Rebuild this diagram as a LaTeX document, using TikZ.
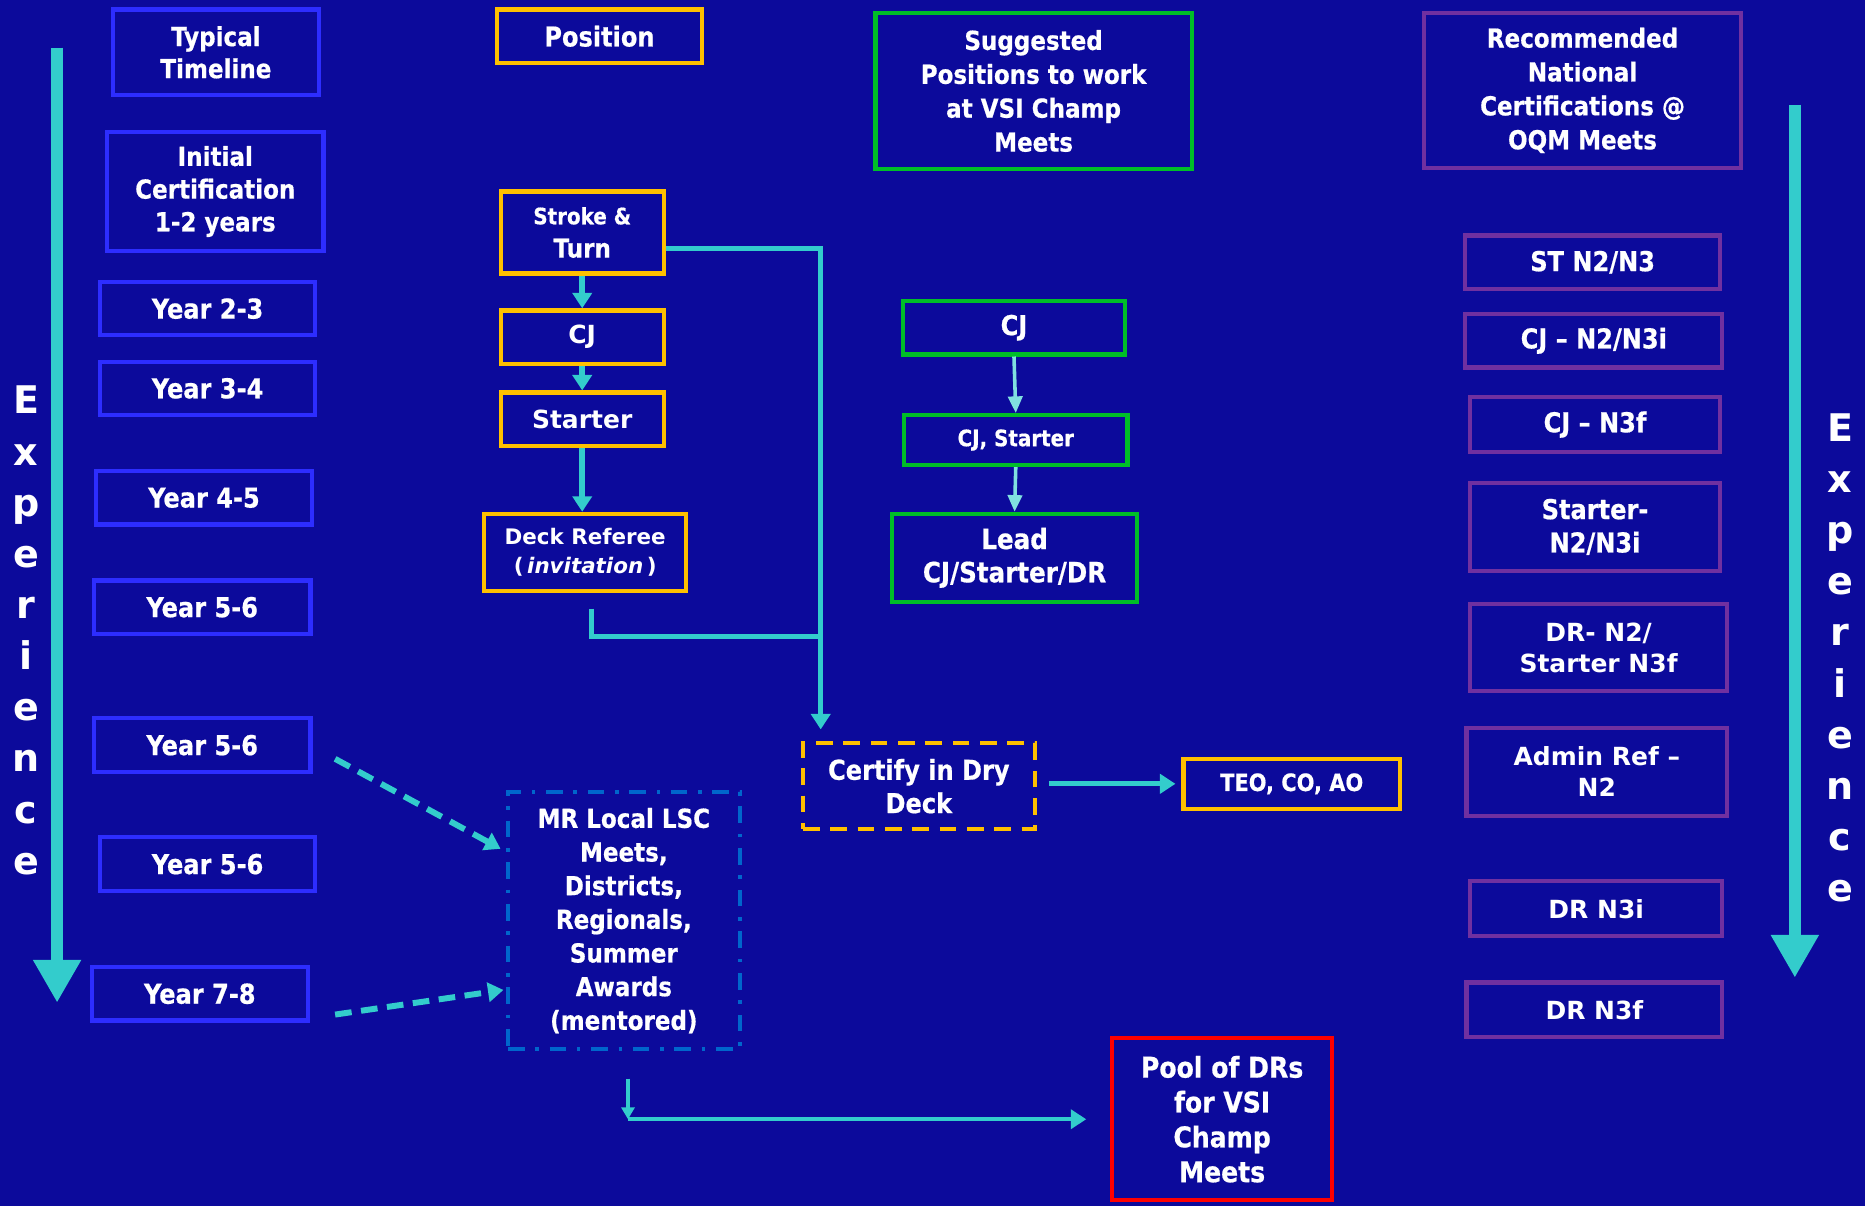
\documentclass[tikz,border=0pt]{standalone}
\usepackage{fontspec}
\setmainfont{DejaVu Sans}
\newfontfamily\tah{DejaVu Sans}[FakeStretch=0.88,FakeBold=0.6]
\usetikzlibrary{arrows.meta}
\definecolor{bgblue}{RGB}{12,10,155}
\definecolor{tealc}{RGB}{51,204,204}
\definecolor{ltteal}{RGB}{128,224,224}
\definecolor{boxblue}{RGB}{45,45,255}
\definecolor{orangec}{RGB}{255,192,0}
\definecolor{greenc}{RGB}{0,190,40}
\definecolor{purplec}{RGB}{112,48,160}
\definecolor{redc}{RGB}{255,0,0}
\definecolor{mrblue}{RGB}{0,102,204}
\begin{document}
\begin{tikzpicture}[x=1pt,y=-1pt,
  box/.style={draw, line width=3.5pt, text=white, align=center, inner sep=0pt,
    font=\tah\bfseries\fontsize{23}{28}\selectfont},
  bbox/.style={box, draw=boxblue},
  obox/.style={box, draw=orangec},
  gbox/.style={box, draw=greenc},
  pbox/.style={box, draw=purplec},
  rbox/.style={box, draw=redc},
  vfont/.style={font=\bfseries\fontsize{21}{26}\selectfont},
  conn/.style={draw=tealc, line width=5pt},
  tipa/.style={-{Triangle[width=16pt,length=13pt]}},
  bigarrow/.style={draw=tealc, line width=10pt, -{Triangle[width=38pt,length=36pt]}},
  expl/.style={text=white, font=\bfseries\fontsize{32}{32}\selectfont, anchor=base, inner sep=0pt},
  ltconn/.style={draw=ltteal, line width=3pt, -{Triangle[width=12pt,length=14pt]}}
]
\fill[bgblue] (0,0) rectangle (1568,1014);
\useasboundingbox (0,0) rectangle (1568,1014);

% left timeline column
\node[bbox, minimum width=173pt, minimum height=72pt, font=\tah\bfseries\fontsize{22}{27}\selectfont] (tt) at (181.5,44) {Typical\\Timeline};
\node[bbox, minimum width=182pt, minimum height=100pt, font=\tah\bfseries\fontsize{22}{27.5}\selectfont] (ic) at (181,161) {Initial\\Certification\\1-2 years};
\node[bbox, minimum width=181pt, minimum height=45pt] (y23) at (174.5,259.5) {Year 2-3};
\node[bbox, minimum width=181pt, minimum height=45pt] (y34) at (174.5,326.5) {Year 3-4};
\node[bbox, minimum width=181pt, minimum height=45pt] (y45) at (171.5,418.5) {Year 4-5};
\node[bbox, minimum width=182pt, minimum height=45pt] (y56a) at (170,510.5) {Year 5-6};
\node[bbox, minimum width=182pt, minimum height=45pt] (y56b) at (170,626.5) {Year 5-6};
\node[bbox, minimum width=181pt, minimum height=45pt] (y56c) at (174.5,726.5) {Year 5-6};
\node[bbox, minimum width=182pt, minimum height=45pt] (y78) at (168,835.5) {Year 7-8};

% position column
\node[obox, minimum width=172pt, minimum height=45pt] (pos) at (504,30.5) {Position};
\node[obox, minimum width=137pt, minimum height=69pt] (st) at (489.5,195.5)
  {{\bfseries\fontsize{19}{24}\selectfont Stroke \&}\\{\bfseries\fontsize{22}{26}\selectfont Turn}};
\node[obox, vfont, minimum width=137pt, minimum height=45pt] (cj) at (489.5,283.5) {CJ};
\node[obox, vfont, minimum width=137pt, minimum height=45pt] (sta) at (489.5,352.5) {Starter};
\node[obox, minimum width=170pt, minimum height=65pt, font=\bfseries\fontsize{18}{24}\selectfont] (dr) at (492,464.5) {Deck Referee\\(\,\textit{invitation}\,)};
\node[obox, dash pattern=on 14pt off 9pt, minimum width=195pt, minimum height=72pt] (cert) at (772.5,661) {Certify in Dry\\Deck};
\node[obox, minimum width=182pt, minimum height=42pt, font=\tah\bfseries\fontsize{20}{24}\selectfont] (teo) at (1086,659) {TEO, CO, AO};

% suggested column
\node[gbox, minimum width=266pt, minimum height=131pt, font=\tah\bfseries\fontsize{22}{28.5}\selectfont] (sug) at (869,76.5) {Suggested\\Positions to work\\at VSI Champ\\Meets};
\node[gbox, minimum width=187pt, minimum height=45pt] (gcj) at (852.5,275.5) {CJ};
\node[gbox, minimum width=188pt, minimum height=42pt, font=\tah\bfseries\fontsize{19}{24}\selectfont] (gcs) at (854,370) {CJ, Starter};
\node[gbox, minimum width=206pt, minimum height=74pt, font=\tah\bfseries\fontsize{23.5}{28}\selectfont] (lead) at (853,469) {Lead\\CJ/Starter/DR};

% national certifications column
\node[pbox, minimum width=267pt, minimum height=130pt, font=\tah\bfseries\fontsize{22}{28.5}\selectfont] (rec) at (1330.5,76) {Recommended\\National\\Certifications @\\OQM Meets};
\node[pbox, minimum width=214pt, minimum height=45pt] (p1) at (1339,220.5) {ST N2/N3};
\node[pbox, minimum width=216pt, minimum height=45pt] (p2) at (1340,286.5) {CJ – N2/N3i};
\node[pbox, minimum width=210pt, minimum height=46pt] (p3) at (1341,357) {CJ – N3f};
\node[pbox, minimum width=210pt, minimum height=74pt, font=\tah\bfseries\fontsize{23}{28}\selectfont] (p4) at (1341,443) {Starter-\\N2/N3i};
\node[pbox, vfont, minimum width=216pt, minimum height=73pt] (p5) at (1344,544.5) {DR- N2/\\Starter N3f};
\node[pbox, vfont, minimum width=219pt, minimum height=74pt] (p6) at (1342.5,649) {Admin Ref –\\N2};
\node[pbox, vfont, minimum width=212pt, minimum height=46pt] (p7) at (1342,764) {DR N3i};
\node[pbox, vfont, minimum width=215pt, minimum height=46pt] (p8) at (1340.5,849) {DR N3f};

% mentoring and pool
\node[box, draw=mrblue, dash pattern=on 14pt off 9pt on 3pt off 9pt, minimum width=195pt, minimum height=216pt, font=\tah\bfseries\fontsize{22}{28.3}\selectfont] (mr) at (524.5,774) {MR Local LSC\\Meets,\\Districts,\\Regionals,\\Summer\\Awards\\(mentored)};
\node[rbox, minimum width=185pt, minimum height=136pt, font=\tah\bfseries\fontsize{24}{29.3}\selectfont] (pool) at (1027.5,941) {Pool of DRs\\for VSI\\Champ\\Meets};

% experience arrows
\coordinate (la1) at (48,40);
\coordinate (la2) at (48,843);
\coordinate (ra1) at (1509,88);
\coordinate (ra2) at (1509,822);
\draw[bigarrow] (la1) -- (la2);
\draw[bigarrow] (ra1) -- (ra2);
\foreach \l [count=\i] in {E,x,p,e,r,i,e,n,c,e} {
  \node[expl] (el\i) at (22,348+43*\i-43) {\l};
  \node[expl] (er\i) at (1547,371+43*\i-43) {\l};
}

% position chain
\draw[conn,tipa] (st.south) -- (cj.north);
\draw[conn,tipa] (cj.south) -- (sta.north);
\draw[conn,tipa] (sta.south) -- (sta.south |- dr.north);
\coordinate (k1) at (690,209);
\coordinate (j1) at (690,535);
\draw[conn, line width=4pt, tipa, shorten >=10pt] ([yshift=-13.5pt]st.east) -- (k1) -- (cert.north -| k1);
\draw[conn, line width=4pt] ([xshift=5pt,yshift=-13pt]dr.south) |- (j1);
\draw[conn, line width=4pt, tipa, shorten <=10pt, shorten >=5pt] (cert.east |- teo.west) -- (teo.west);

% green chain
\draw[ltconn] (gcj.south) -- (gcs.north);
\draw[ltconn] (gcs.south) -- (lead.north);

% dashed into mentoring
\draw[conn, dash pattern=on 14pt off 8pt, tipa, shorten >=5pt] ([xshift=19pt,yshift=-11.5pt]y56b.east) -- ([yshift=58pt]mr.west);
\draw[conn, dash pattern=on 14pt off 8pt, tipa, shorten >=2pt] ([xshift=21pt,yshift=-17.5pt]y78.east) -- ([yshift=-58pt]mr.west);

% mentoring to pool
\coordinate (j2) at (528,941);
\draw[conn, line width=3.5pt, -{Triangle[width=11pt,length=10pt]}] ([xshift=3.5pt,yshift=-23pt]mr.south) -- (j2);
\draw[conn, line width=3.5pt, tipa, shorten >=20pt] (j2) -- (pool.west);
\end{tikzpicture}
\end{document}
